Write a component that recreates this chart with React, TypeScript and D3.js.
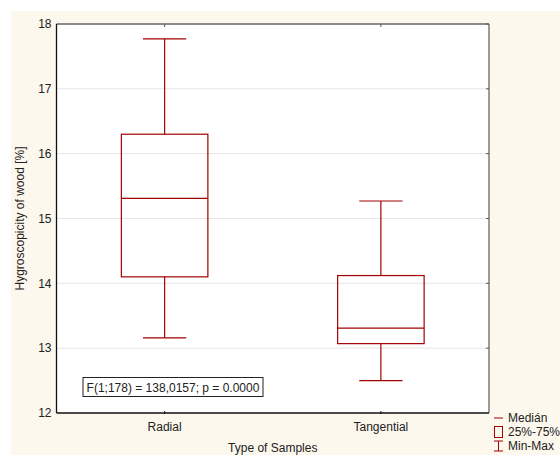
import React from "react";
import * as d3 from "d3";

const categories = ["Radial", "Tangential"];
const minValues = [13.16, 12.5];
const q1Values = [14.1, 13.07];
const medianValues = [15.31, 13.31];
const q3Values = [16.3, 14.12];
const maxValues = [17.77, 15.27];
const yTicks = [12, 13, 14, 15, 16, 17, 18];
const legendItems = ["Medián", "25%-75%", "Min-Max"];
const annotation = "F(1;178) = 138,0157; p = 0.0000";

const W = 560, H = 455;
const plot = { left: 56.5, right: 489, top: 24, bottom: 413 };
const red = "#a30000";
const font = "Liberation Sans, Arial, sans-serif";
const fs = 12;

export default function App() {
  const x = d3.scaleBand<string>().domain(categories).range([plot.left, plot.right]).padding(0);
  const y = d3.scaleLinear().domain([12, 18]).range([plot.bottom, plot.top]);
  const bw = x.bandwidth();
  const boxW = bw * 0.4;
  const capW = boxW / 2;
  return (
    <svg width={W} height={H} style={{ position: "absolute", left: 0, top: 0 }} fontFamily={font}>
      <rect x={11} y={11} width={W - 11} height={H - 11} fill="#fdf8ed" />
      <rect x={plot.left} y={plot.top} width={plot.right - plot.left} height={plot.bottom - plot.top} fill="#fff" />
      {yTicks.slice(1, -1).map((t) => (
        <line key={t} x1={plot.left} x2={plot.right} y1={y(t)} y2={y(t)} stroke="#e6e6e6" strokeWidth={1} />
      ))}
      <line x1={plot.left} x2={plot.right} y1={plot.top} y2={plot.top} stroke="#666" strokeWidth={1.3} />
      <line x1={plot.right} x2={plot.right} y1={plot.top} y2={plot.bottom} stroke="#666" strokeWidth={1.3} />
      <line x1={plot.left} x2={plot.left} y1={plot.top} y2={plot.bottom} stroke="#111" strokeWidth={1.3} />
      <line x1={plot.left} x2={plot.right} y1={plot.bottom} y2={plot.bottom} stroke="#111" strokeWidth={1.3} />
      {yTicks.map((t) => (
        <g key={t}>
          <line x1={plot.right - 3} x2={plot.right} y1={y(t)} y2={y(t)} stroke="#555" />
          <text x={plot.left - 5} y={y(t)} dy="0.35em" textAnchor="end" fontSize={fs} fill="#222">{t}</text>
        </g>
      ))}
      {categories.map((c) => {
        const cx = x(c)! + bw / 2;
        return (
          <g key={c}>
            <line x1={cx} x2={cx} y1={plot.top} y2={plot.top + 3} stroke="#555" />
            <line x1={cx} x2={cx} y1={plot.bottom - 2} y2={plot.bottom + 1} stroke="#111" />
            <text x={cx} y={plot.bottom + 18} textAnchor="middle" fontSize={fs} fill="#222">{c}</text>
          </g>
        );
      })}
      {categories.map((c, i) => {
        const cx = x(c)! + bw / 2;
        return (
          <g key={c} stroke={red} fill="none" strokeWidth={1.2}>
            <line x1={cx} x2={cx} y1={y(maxValues[i])} y2={y(q3Values[i])} />
            <line x1={cx} x2={cx} y1={y(q1Values[i])} y2={y(minValues[i])} />
            <line x1={cx - capW / 2} x2={cx + capW / 2} y1={y(maxValues[i])} y2={y(maxValues[i])} />
            <line x1={cx - capW / 2} x2={cx + capW / 2} y1={y(minValues[i])} y2={y(minValues[i])} />
            <rect x={cx - boxW / 2} y={y(q3Values[i])} width={boxW} height={y(q1Values[i]) - y(q3Values[i])} />
            <line x1={cx - boxW / 2} x2={cx + boxW / 2} y1={y(medianValues[i])} y2={y(medianValues[i])} />
          </g>
        );
      })}
      <rect x={83} y={377.5} width={180} height={19} fill="#fff" stroke="#222" strokeWidth={1} />
      <text x={173} y={387.5} dy="0.35em" textAnchor="middle" fontSize={fs} fill="#222">{annotation}</text>
      <text x={(plot.left + plot.right) / 2} y={452} textAnchor="middle" fontSize={fs} fill="#222">Type of Samples</text>
      <text transform={`translate(24,${(plot.top + plot.bottom) / 2}) rotate(-90)`} textAnchor="middle" fontSize={fs} fill="#222">
        Hygroscopicity of wood [%]
      </text>
      <g stroke={red} fill="none" strokeWidth={1}>
        <line x1={494} x2={503} y1={418} y2={418} />
        <rect x={494.5} y={426.5} width={8} height={11} />
        <line x1={494} x2={503} y1={441} y2={441} />
        <line x1={494} x2={503} y1={451} y2={451} />
        <line x1={498.5} x2={498.5} y1={441} y2={451} />
      </g>
      {legendItems.map((t, i) => (
        <text key={t} x={508} y={418 + i * 14} dy="0.35em" fontSize={fs} fill="#222">{t}</text>
      ))}
    </svg>
  );
}
